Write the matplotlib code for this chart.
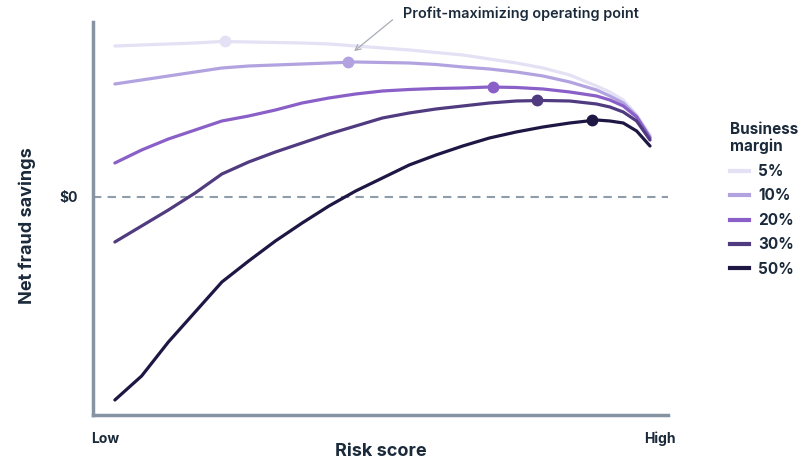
import matplotlib
matplotlib.use("Agg")
import matplotlib.pyplot as plt
from matplotlib.lines import Line2D

plt.rcParams['font.family'] = ['Inter', 'DejaVu Sans']

# risk score grid (0 = low, 100 = high)
risk = [0, 5, 10, 15, 20, 25, 30, 35, 40, 45, 50, 55, 60, 65, 70, 75, 80, 85, 90,
        92.5, 95, 97.5, 100]

margins = ['5%', '10%', '20%', '30%', '50%']
savings_5 = [1.51, 1.52, 1.53, 1.54, 1.555, 1.55, 1.545, 1.54, 1.53, 1.51, 1.49, 1.47,
             1.445, 1.42, 1.38, 1.34, 1.29, 1.22, 1.11, 1.05, 0.97, 0.82, 0.62]
savings_10 = [1.13, 1.17, 1.21, 1.25, 1.29, 1.31, 1.32, 1.33, 1.34, 1.35, 1.345, 1.34,
              1.325, 1.30, 1.28, 1.25, 1.21, 1.15, 1.07, 1.01, 0.94, 0.81, 0.60]
savings_20 = [0.34, 0.47, 0.58, 0.67, 0.76, 0.81, 0.87, 0.94, 0.99, 1.03, 1.06, 1.075,
              1.085, 1.09, 1.10, 1.095, 1.08, 1.05, 1.01, 0.97, 0.91, 0.80, 0.59]
savings_30 = [-0.45, -0.29, -0.13, 0.04, 0.23, 0.35, 0.45, 0.54, 0.63, 0.71, 0.79, 0.84,
              0.88, 0.91, 0.94, 0.96, 0.965, 0.96, 0.93, 0.90, 0.85, 0.76, 0.57]
savings_50 = [-2.03, -1.79, -1.45, -1.15, -0.85, -0.64, -0.44, -0.26, -0.09, 0.06, 0.19,
              0.32, 0.42, 0.51, 0.59, 0.65, 0.70, 0.74, 0.77, 0.76, 0.74, 0.66, 0.51]
series = [savings_5, savings_10, savings_20, savings_30, savings_50]

# profit-maximizing operating points
opt_x = [20.6, 43.6, 70.7, 78.9, 89.2]
opt_v = [1.56, 1.35, 1.10, 0.97, 0.77]

colors = ['#e4e1f4', '#b2a3e0', '#8a60c8', '#503a80', '#1e1744']
ink = '#1b2a3a'
axis_gray = '#8593a3'

fig = plt.figure(figsize=(8.08, 4.61), dpi=100)
ax = fig.add_axes([0.115, 0.0998, 0.712, 0.8525])

ax.axhline(0, color='#8e9cab', lw=1.5, ls=(0, (4, 3)), zorder=1)

for vals, c, ox, ov in zip(series, colors, opt_x, opt_v):
    ax.plot(risk, vals, color=c, lw=2.3, solid_capstyle='round',
            solid_joinstyle='round', zorder=2)
    ax.plot(ox, ov, 'o', color=c, ms=7.5, zorder=3)

ax.set_xlim(-4.1, 103.4)
ax.set_ylim(-2.18, 1.75)

for side in ['top', 'right']:
    ax.spines[side].set_visible(False)
for side in ['left', 'bottom']:
    ax.spines[side].set_color(axis_gray)
    ax.spines[side].set_linewidth(2.5)
ax.set_xticks([])
ax.set_yticks([0])
ax.set_yticklabels(['$0'], fontsize=10, fontweight='bold', color=ink)
ax.tick_params(axis='y', length=0, pad=11)

ax.text(-1.9, -2.42, 'Low', ha='center', va='center', fontsize=10,
        fontweight='bold', color=ink)
ax.text(101.9, -2.42, 'High', ha='center', va='center', fontsize=10,
        fontweight='bold', color=ink)
ax.set_xlabel('Risk score', fontsize=13, fontweight='bold', color=ink, labelpad=20)
fig.text(0.034, 0.51, 'Net fraud savings', rotation=90, ha='center', va='center',
         fontsize=13, fontweight='bold', color=ink)

ax.annotate('', xy=(44.3, 1.44), xytext=(52.3, 1.79), annotation_clip=False,
            arrowprops=dict(arrowstyle='->', color='#a8acb4', lw=0.9))
ax.text(53.8, 1.83, 'Profit-maximizing operating point', ha='left', va='center',
        fontsize=10.4, fontweight='semibold', color=ink, clip_on=False)

handles = [Line2D([0], [0], color=c, lw=3) for c in colors]
leg = fig.legend(handles, margins, title='Business\nmargin', loc='upper left',
                 bbox_to_anchor=(0.886, 0.765), frameon=False, handlelength=1.25,
                 handletextpad=0.6, labelspacing=0.62, alignment='left',
                 prop=dict(size=11, weight='bold'),
                 title_fontproperties=dict(size=11, weight='bold'))
for t in leg.get_texts():
    t.set_color(ink)
leg.get_title().set_color(ink)
leg.get_title().set_linespacing(1.15)

fig.savefig('out.png', dpi=100)
